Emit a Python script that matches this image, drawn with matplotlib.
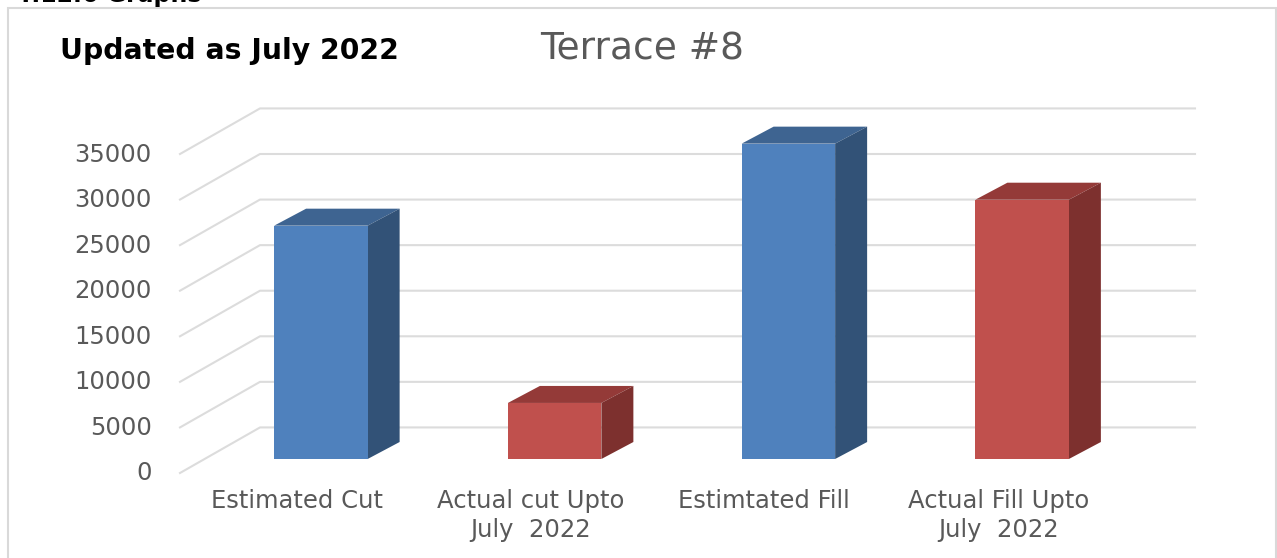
import matplotlib
matplotlib.use("Agg")
import matplotlib.pyplot as plt
from matplotlib.patches import Polygon, Rectangle
from matplotlib.transforms import ScaledTranslation

categories = ["Estimated Cut", "Actual cut Upto\nJuly  2022", "Estimtated Fill", "Actual Fill Upto\nJuly  2022"]
values = [25600, 6150, 34600, 28450]
y_ticks = [0, 5000, 10000, 15000, 20000, 25000, 30000, 35000]
front_colors = ["#4f81bd", "#c0504d", "#4f81bd", "#c0504d"]
side_colors = ["#325277", "#7d302e", "#325277", "#7d302e"]
top_colors = ["#3e6491", "#943a38", "#3e6491", "#943a38"]

W, H = 1277, 558
fig = plt.figure(figsize=(W / 100, H / 100), dpi=100, facecolor="white")
ax = fig.add_axes([180 / W, 1 - 473 / H, 935 / W, 319 / H])
ax.set_xlim(-0.5, 3.5)
ax.set_ylim(0, 35000)
for s in ax.spines.values():
    s.set_visible(False)
ax.patch.set_visible(False)

GRID = "#dcdcdc"
WALL_DX, WALL_DY = 80 / 233.75, 5000
RIGHT = 3.5 + WALL_DX
for v in y_ticks:
    ax.plot([-0.5, -0.5 + WALL_DX, RIGHT], [v, v + WALL_DY, v + WALL_DY],
            color=GRID, lw=1.5, clip_on=False, zorder=1)

BAR_W = 0.4
OFF_X, OFF_Y = 24 / 233.75, 1536
DEP_X, DEP_Y = 32 / 233.75, 1865
for i, v in enumerate(values):
    x0 = i - BAR_W / 2 + OFF_X
    x1 = x0 + BAR_W
    y0, y1 = OFF_Y, OFF_Y + v
    ax.add_patch(Polygon([(x0, y1), (x1, y1), (x1 + DEP_X, y1 + DEP_Y), (x0 + DEP_X, y1 + DEP_Y)],
                         fc=top_colors[i], ec="none", clip_on=False, zorder=3))
    ax.add_patch(Polygon([(x1, y0), (x1 + DEP_X, y0 + DEP_Y), (x1 + DEP_X, y1 + DEP_Y), (x1, y1)],
                         fc=side_colors[i], ec="none", clip_on=False, zorder=3))
    ax.add_patch(Rectangle((x0, y0), BAR_W, v, fc=front_colors[i], ec="none", clip_on=False, zorder=4))

TXT = "#595959"
ax.set_yticks(y_ticks)
ax.set_yticklabels([str(t) for t in y_ticks])
ax.set_xticks(range(len(categories)))
ax.set_xticklabels(categories, linespacing=1.27)
ax.tick_params(axis="y", length=0, pad=20.5, labelsize=17.5, labelcolor=TXT)
ax.tick_params(axis="x", length=0, pad=11.5, labelsize=17.5, labelcolor=TXT)
shift = ScaledTranslation(0, 2 / 100, fig.dpi_scale_trans)
for lab in ax.get_yticklabels():
    lab.set_transform(lab.get_transform() + shift)

fig.text(642 / W, 1 - 50 / H, "Terrace #8", ha="center", va="center", fontsize=27, color=TXT)
fig.text(60 / W, 1 - 51 / H, "Updated as July 2022", ha="left", va="center", fontsize=20.3,
         fontweight="bold", color="black")
fig.text(15 / W, 1 - 2 / H, "4.12.6 Graphs", ha="left", va="baseline", fontsize=17,
         fontweight="bold", color="black")
fig.add_artist(Rectangle((8 / W, -0.02), (1276 - 8) / W, 1.02 - 7.5 / H, transform=fig.transFigure,
                         fc="none", ec="#d9d9d9", lw=1.5))
fig.savefig("out.png", dpi=100)
